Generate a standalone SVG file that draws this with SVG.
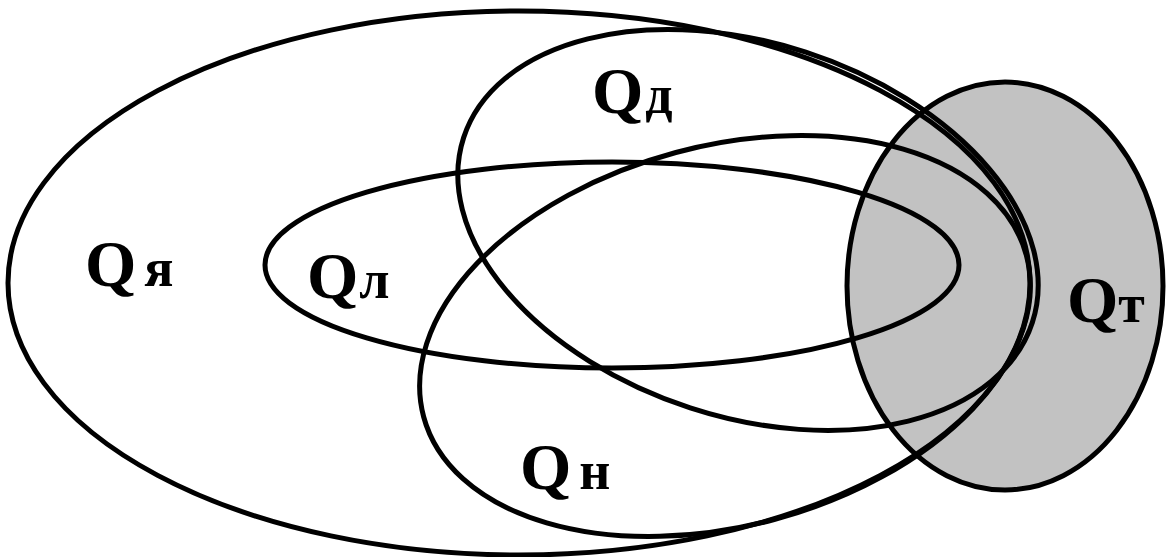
<svg xmlns="http://www.w3.org/2000/svg" width="1168" height="557" viewBox="0 0 1168 557">
  <style>
    .bg { fill: #ffffff; }
    .set { fill: none; stroke: #000000; stroke-width: 5; }
    .shaded { fill: #c2c2c2; stroke: #000000; stroke-width: 5; }
    .lbl { font-family: "Liberation Serif", "Times New Roman", serif; font-weight: bold; fill: #000000; }
    .q { font-size: 66px; }
    .s { font-size: 54px; }
  </style>
  <rect class="bg" x="0" y="0" width="1168" height="557"/>
  <g id="node-Qt">
    <ellipse class="shaded" cx="1005" cy="286" rx="158" ry="204"/>
    <text class="lbl" x="1067" y="322"><tspan class="q">Q</tspan><tspan class="s" dx="0">т</tspan></text>
  </g>
  <g id="node-Qya">
    <ellipse class="set" cx="519" cy="283" rx="511" ry="272"/>
    <text class="lbl" x="85" y="286"><tspan class="q">Q</tspan><tspan class="s" dx="8">я</tspan></text>
  </g>
  <g id="node-Ql">
    <ellipse class="set" cx="612" cy="265" rx="347" ry="103"/>
    <text class="lbl" x="307" y="298"><tspan class="q">Q</tspan><tspan class="s" dx="1">л</tspan></text>
  </g>
  <g id="node-Qd">
    <ellipse class="set" cx="0" cy="0" rx="299" ry="187" transform="translate(748 230) rotate(18)"/>
    <text class="lbl" x="592" y="113"><tspan class="q">Q</tspan><tspan class="s" dx="2">д</tspan></text>
  </g>
  <g id="node-Qn">
    <ellipse class="set" cx="0" cy="0" rx="312" ry="190" transform="translate(725 336) rotate(-15)"/>
    <text class="lbl" x="520" y="489"><tspan class="q">Q</tspan><tspan class="s" dx="8">н</tspan></text>
  </g>
  <g id="connectors"></g>
</svg>
